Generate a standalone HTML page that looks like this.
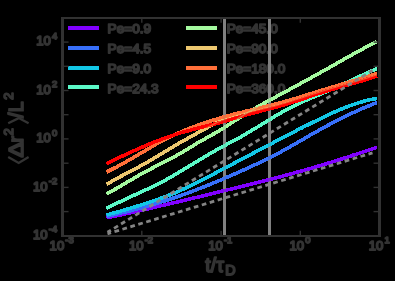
<!DOCTYPE html>
<html><head><meta charset="utf-8"><title>MSD</title>
<style>
html,body{margin:0;padding:0;background:#000;}
body{width:395px;height:281px;overflow:hidden;position:relative;font-family:"Liberation Sans",sans-serif;}
svg text{font-family:"Liberation Sans",sans-serif;stroke:#333333;stroke-width:1.75px;stroke-linejoin:round;}
svg .tx{filter:grayscale(1);}
</style></head><body>
<svg width="395" height="281" viewBox="0 0 395 281" style="position:absolute;left:0;top:0">
<rect width="395" height="281" fill="#000"/>
<rect x="68" y="26" width="31" height="4" fill="#8000ff" shape-rendering="crispEdges"/>
<rect x="68" y="46" width="31" height="4" fill="#376ff9" shape-rendering="crispEdges"/>
<rect x="68" y="66" width="31" height="4" fill="#12c7e6" shape-rendering="crispEdges"/>
<rect x="68" y="85" width="31" height="4" fill="#5bf9c7" shape-rendering="crispEdges"/>
<rect x="186" y="26" width="31" height="4" fill="#a4f99f" shape-rendering="crispEdges"/>
<rect x="186" y="46" width="31" height="4" fill="#edc76f" shape-rendering="crispEdges"/>
<rect x="186" y="66" width="31" height="4" fill="#ff6f39" shape-rendering="crispEdges"/>
<rect x="186" y="85" width="31" height="4" fill="#ff0000" shape-rendering="crispEdges"/>
<g class="tx">
<text x="107.6" y="33.2" font-size="13.6" fill="#333333">Pe=0.9</text>
<text x="107.6" y="53.0" font-size="13.6" fill="#333333">Pe=4.5</text>
<text x="107.6" y="72.9" font-size="13.6" fill="#333333">Pe=9.0</text>
<text x="107.6" y="92.6" font-size="13.6" fill="#333333">Pe=24.3</text>
<text x="226.7" y="33.2" font-size="13.6" fill="#333333">Pe=45.0</text>
<text x="226.7" y="53.0" font-size="13.6" fill="#333333">Pe=90.0</text>
<text x="226.7" y="72.9" font-size="13.6" fill="#333333">Pe=180.0</text>
<text x="226.7" y="92.6" font-size="13.6" fill="#333333">Pe=360.0</text>
</g>
<rect x="223" y="18" width="3" height="218" fill="#808080" shape-rendering="crispEdges"/>
<rect x="268" y="18" width="3" height="218" fill="#808080" shape-rendering="crispEdges"/>
<path d="M106.5,217.7 L109.9,217.0 L113.3,216.4 L116.8,215.7 L120.2,215.0 L123.6,214.2 L127.0,213.5 L130.5,212.8 L133.9,212.0 L137.3,211.2 L140.7,210.5 L144.2,209.7 L147.6,208.9 L151.0,208.1 L154.4,207.3 L157.9,206.5 L161.3,205.7 L164.7,204.9 L168.1,204.1 L171.6,203.3 L175.0,202.5 L178.4,201.7 L181.8,200.9 L185.3,200.0 L188.7,199.2 L192.1,198.4 L195.5,197.6 L198.9,196.8 L202.4,196.0 L205.8,195.1 L209.2,194.3 L212.6,193.5 L216.1,192.7 L219.5,191.8 L222.9,191.0 L226.3,190.2 L229.8,189.3 L233.2,188.5 L236.6,187.7 L240.0,186.8 L243.5,186.0 L246.9,185.2 L250.3,184.3 L253.7,183.5 L257.2,182.6 L260.6,181.8 L264.0,180.9 L267.4,180.0 L270.9,179.1 L274.3,178.3 L277.7,177.4 L281.1,176.5 L284.6,175.6 L288.0,174.7 L291.4,173.7 L294.8,172.8 L298.2,171.9 L301.7,170.9 L305.1,170.0 L308.5,169.0 L311.9,168.0 L315.4,167.0 L318.8,166.0 L322.2,165.0 L325.6,163.9 L329.1,162.9 L332.5,161.8 L335.9,160.7 L339.3,159.7 L342.8,158.6 L346.2,157.5 L349.6,156.4 L353.0,155.2 L356.5,154.1 L359.9,153.0 L363.3,151.9 L366.7,150.8 L370.2,149.6 L373.6,148.5 L377.0,147.4" fill="none" stroke="#8000ff" stroke-width="3.6" stroke-linejoin="round" shape-rendering="crispEdges"/>
<path d="M106.5,216.4 L109.9,215.6 L113.3,214.8 L116.8,214.0 L120.2,213.2 L123.6,212.4 L127.0,211.6 L130.5,210.7 L133.9,209.8 L137.3,208.9 L140.7,208.0 L144.2,207.0 L147.6,206.1 L151.0,205.1 L154.4,204.1 L157.9,203.0 L161.3,202.0 L164.7,200.9 L168.1,199.8 L171.6,198.7 L175.0,197.5 L178.4,196.4 L181.8,195.2 L185.3,193.9 L188.7,192.7 L192.1,191.4 L195.5,190.1 L198.9,188.8 L202.4,187.4 L205.8,186.1 L209.2,184.7 L212.6,183.3 L216.1,181.9 L219.5,180.5 L222.9,179.0 L226.3,177.5 L229.8,176.1 L233.2,174.6 L236.6,173.1 L240.0,171.5 L243.5,170.0 L246.9,168.5 L250.3,166.9 L253.7,165.3 L257.2,163.8 L260.6,162.1 L264.0,160.5 L267.4,158.8 L270.9,157.1 L274.3,155.3 L277.7,153.6 L281.1,151.7 L284.6,149.9 L288.0,148.0 L291.4,146.0 L294.8,144.1 L298.2,142.1 L301.7,140.1 L305.1,138.1 L308.5,136.1 L311.9,134.2 L315.4,132.2 L318.8,130.3 L322.2,128.4 L325.6,126.5 L329.1,124.7 L332.5,122.8 L335.9,121.1 L339.3,119.3 L342.8,117.6 L346.2,116.0 L349.6,114.3 L353.0,112.7 L356.5,111.2 L359.9,109.6 L363.3,108.1 L366.7,106.7 L370.2,105.3 L373.6,103.9 L377.0,102.6" fill="none" stroke="#376ff9" stroke-width="3.6" stroke-linejoin="round" shape-rendering="crispEdges"/>
<path d="M106.5,215.1 L109.9,214.1 L113.3,213.1 L116.8,212.2 L120.2,211.2 L123.6,210.2 L127.0,209.2 L130.5,208.2 L133.9,207.2 L137.3,206.1 L140.7,205.1 L144.2,204.0 L147.6,202.9 L151.0,201.7 L154.4,200.6 L157.9,199.4 L161.3,198.1 L164.7,196.9 L168.1,195.5 L171.6,194.2 L175.0,192.8 L178.4,191.3 L181.8,189.8 L185.3,188.2 L188.7,186.6 L192.1,185.0 L195.5,183.3 L198.9,181.6 L202.4,179.8 L205.8,178.0 L209.2,176.3 L212.6,174.5 L216.1,172.7 L219.5,170.9 L222.9,169.1 L226.3,167.3 L229.8,165.5 L233.2,163.7 L236.6,161.9 L240.0,160.1 L243.5,158.3 L246.9,156.5 L250.3,154.7 L253.7,152.9 L257.2,151.1 L260.6,149.3 L264.0,147.5 L267.4,145.7 L270.9,143.9 L274.3,142.1 L277.7,140.3 L281.1,138.5 L284.6,136.7 L288.0,134.9 L291.4,133.1 L294.8,131.4 L298.2,129.6 L301.7,127.9 L305.1,126.2 L308.5,124.5 L311.9,122.8 L315.4,121.1 L318.8,119.4 L322.2,117.8 L325.6,116.1 L329.1,114.5 L332.5,112.9 L335.9,111.4 L339.3,109.9 L342.8,108.5 L346.2,107.1 L349.6,105.8 L353.0,104.6 L356.5,103.4 L359.9,102.4 L363.3,101.4 L366.7,100.5 L370.2,99.7 L373.6,99.1 L377.0,98.5" fill="none" stroke="#12c7e6" stroke-width="3.6" stroke-linejoin="round" shape-rendering="crispEdges"/>
<path d="M106.5,208.5 L109.9,206.7 L113.3,205.0 L116.8,203.3 L120.2,201.7 L123.6,200.0 L127.0,198.4 L130.5,196.8 L133.9,195.3 L137.3,193.7 L140.7,192.1 L144.2,190.6 L147.6,189.0 L151.0,187.4 L154.4,185.7 L157.9,184.1 L161.3,182.3 L164.7,180.5 L168.1,178.6 L171.6,176.6 L175.0,174.7 L178.4,172.6 L181.8,170.6 L185.3,168.5 L188.7,166.5 L192.1,164.4 L195.5,162.3 L198.9,160.2 L202.4,158.2 L205.8,156.1 L209.2,154.1 L212.6,152.1 L216.1,150.2 L219.5,148.3 L222.9,146.4 L226.3,144.6 L229.8,142.8 L233.2,141.0 L236.6,139.1 L240.0,137.3 L243.5,135.3 L246.9,133.3 L250.3,131.3 L253.7,129.3 L257.2,127.2 L260.6,125.1 L264.0,123.0 L267.4,120.9 L270.9,118.8 L274.3,116.7 L277.7,114.7 L281.1,112.7 L284.6,110.8 L288.0,108.9 L291.4,107.1 L294.8,105.4 L298.2,103.7 L301.7,102.2 L305.1,100.6 L308.5,99.2 L311.9,97.8 L315.4,96.3 L318.8,94.9 L322.2,93.5 L325.6,92.0 L329.1,90.5 L332.5,89.0 L335.9,87.5 L339.3,85.9 L342.8,84.3 L346.2,82.7 L349.6,81.1 L353.0,79.5 L356.5,77.9 L359.9,76.3 L363.3,74.7 L366.7,73.1 L370.2,71.5 L373.6,70.0 L377.0,68.5" fill="none" stroke="#5bf9c7" stroke-width="3.6" stroke-linejoin="round" shape-rendering="crispEdges"/>
<path d="M106.5,193.7 L109.9,192.0 L113.3,190.2 L116.8,188.3 L120.2,186.3 L123.6,184.3 L127.0,182.3 L130.5,180.2 L133.9,178.2 L137.3,176.2 L140.7,174.3 L144.2,172.4 L147.6,170.6 L151.0,168.8 L154.4,167.0 L157.9,165.3 L161.3,163.6 L164.7,161.8 L168.1,160.1 L171.6,158.3 L175.0,156.4 L178.4,154.5 L181.8,152.5 L185.3,150.5 L188.7,148.4 L192.1,146.3 L195.5,144.2 L198.9,142.1 L202.4,140.2 L205.8,138.3 L209.2,136.4 L212.6,134.5 L216.1,132.6 L219.5,130.6 L222.9,128.5 L226.3,126.3 L229.8,124.1 L233.2,121.8 L236.6,119.6 L240.0,117.4 L243.5,115.2 L246.9,113.1 L250.3,111.1 L253.7,109.1 L257.2,107.1 L260.6,105.2 L264.0,103.3 L267.4,101.4 L270.9,99.5 L274.3,97.7 L277.7,95.8 L281.1,94.0 L284.6,92.2 L288.0,90.3 L291.4,88.5 L294.8,86.6 L298.2,84.8 L301.7,82.9 L305.1,81.0 L308.5,79.2 L311.9,77.3 L315.4,75.4 L318.8,73.5 L322.2,71.5 L325.6,69.6 L329.1,67.7 L332.5,65.7 L335.9,63.8 L339.3,61.9 L342.8,59.9 L346.2,58.0 L349.6,56.1 L353.0,54.2 L356.5,52.3 L359.9,50.5 L363.3,48.6 L366.7,46.8 L370.2,45.0 L373.6,43.3 L377.0,41.6" fill="none" stroke="#a4f99f" stroke-width="3.6" stroke-linejoin="round" shape-rendering="crispEdges"/>
<path d="M106.5,184.4 L109.9,182.4 L113.3,180.4 L116.8,178.6 L120.2,176.7 L123.6,174.9 L127.0,173.1 L130.5,171.3 L133.9,169.5 L137.3,167.7 L140.7,165.8 L144.2,163.9 L147.6,162.0 L151.0,160.0 L154.4,157.9 L157.9,155.9 L161.3,153.8 L164.7,151.8 L168.1,149.7 L171.6,147.7 L175.0,145.6 L178.4,143.6 L181.8,141.7 L185.3,139.7 L188.7,137.8 L192.1,135.9 L195.5,134.1 L198.9,132.2 L202.4,130.3 L205.8,128.4 L209.2,126.5 L212.6,124.8 L216.1,123.0 L219.5,121.5 L222.9,120.0 L226.3,118.7 L229.8,117.5 L233.2,116.4 L236.6,115.4 L240.0,114.5 L243.5,113.5 L246.9,112.7 L250.3,111.8 L253.7,111.0 L257.2,110.2 L260.6,109.3 L264.0,108.5 L267.4,107.7 L270.9,106.9 L274.3,106.0 L277.7,105.1 L281.1,104.1 L284.6,103.2 L288.0,102.1 L291.4,101.1 L294.8,100.0 L298.2,98.9 L301.7,97.8 L305.1,96.7 L308.5,95.6 L311.9,94.5 L315.4,93.4 L318.8,92.3 L322.2,91.2 L325.6,90.2 L329.1,89.2 L332.5,88.2 L335.9,87.2 L339.3,86.2 L342.8,85.2 L346.2,84.2 L349.6,83.2 L353.0,82.2 L356.5,81.2 L359.9,80.2 L363.3,79.1 L366.7,78.1 L370.2,77.0 L373.6,75.8 L377.0,74.7" fill="none" stroke="#edc76f" stroke-width="3.6" stroke-linejoin="round" shape-rendering="crispEdges"/>
<path d="M106.5,172.0 L109.9,170.3 L113.3,168.6 L116.8,166.9 L120.2,165.1 L123.6,163.2 L127.0,161.3 L130.5,159.3 L133.9,157.3 L137.3,155.3 L140.7,153.3 L144.2,151.2 L147.6,149.2 L151.0,147.1 L154.4,145.1 L157.9,143.2 L161.3,141.3 L164.7,139.5 L168.1,137.8 L171.6,136.2 L175.0,134.6 L178.4,133.0 L181.8,131.6 L185.3,130.1 L188.7,128.7 L192.1,127.4 L195.5,126.1 L198.9,124.9 L202.4,123.7 L205.8,122.5 L209.2,121.4 L212.6,120.3 L216.1,119.3 L219.5,118.2 L222.9,117.2 L226.3,116.3 L229.8,115.3 L233.2,114.4 L236.6,113.6 L240.0,112.7 L243.5,111.9 L246.9,111.0 L250.3,110.2 L253.7,109.4 L257.2,108.6 L260.6,107.8 L264.0,107.0 L267.4,106.1 L270.9,105.3 L274.3,104.4 L277.7,103.5 L281.1,102.6 L284.6,101.6 L288.0,100.7 L291.4,99.6 L294.8,98.6 L298.2,97.6 L301.7,96.5 L305.1,95.4 L308.5,94.3 L311.9,93.3 L315.4,92.2 L318.8,91.1 L322.2,90.1 L325.6,89.1 L329.1,88.0 L332.5,87.0 L335.9,86.0 L339.3,85.0 L342.8,84.0 L346.2,83.0 L349.6,82.0 L353.0,80.9 L356.5,79.9 L359.9,78.9 L363.3,77.8 L366.7,76.7 L370.2,75.6 L373.6,74.5 L377.0,73.4" fill="none" stroke="#ff6f39" stroke-width="3.6" stroke-linejoin="round" shape-rendering="crispEdges"/>
<path d="M106.5,163.7 L109.9,162.0 L113.3,160.4 L116.8,158.7 L120.2,157.1 L123.6,155.5 L127.0,153.9 L130.5,152.3 L133.9,150.8 L137.3,149.2 L140.7,147.7 L144.2,146.3 L147.6,144.8 L151.0,143.4 L154.4,142.0 L157.9,140.7 L161.3,139.4 L164.7,138.1 L168.1,136.9 L171.6,135.7 L175.0,134.6 L178.4,133.5 L181.8,132.5 L185.3,131.5 L188.7,130.6 L192.1,129.7 L195.5,128.8 L198.9,127.9 L202.4,127.1 L205.8,126.2 L209.2,125.4 L212.6,124.5 L216.1,123.6 L219.5,122.7 L222.9,121.7 L226.3,120.7 L229.8,119.7 L233.2,118.7 L236.6,117.7 L240.0,116.7 L243.5,115.7 L246.9,114.8 L250.3,113.8 L253.7,112.9 L257.2,112.0 L260.6,111.1 L264.0,110.2 L267.4,109.4 L270.9,108.5 L274.3,107.6 L277.7,106.7 L281.1,105.7 L284.6,104.7 L288.0,103.7 L291.4,102.6 L294.8,101.5 L298.2,100.4 L301.7,99.3 L305.1,98.1 L308.5,96.9 L311.9,95.8 L315.4,94.6 L318.8,93.5 L322.2,92.4 L325.6,91.3 L329.1,90.3 L332.5,89.3 L335.9,88.3 L339.3,87.3 L342.8,86.4 L346.2,85.4 L349.6,84.4 L353.0,83.5 L356.5,82.5 L359.9,81.5 L363.3,80.4 L366.7,79.3 L370.2,78.2 L373.6,77.1 L377.0,75.9" fill="none" stroke="#ff0000" stroke-width="3.6" stroke-linejoin="round" shape-rendering="crispEdges"/>
<path d="M106.5,193.7 L109.9,192.0 L113.3,190.2 L116.8,188.3 L120.2,186.3 L123.6,184.3 L127.0,182.3 L130.5,180.2 L133.9,178.2 L137.3,176.2 L140.7,174.3 L144.2,172.4 L147.6,170.6 L151.0,168.8 L154.4,167.0 L157.9,165.3 L161.3,163.6 L164.7,161.8 L168.1,160.1 L171.6,158.3 L175.0,156.4 L178.4,154.5 L181.8,152.5 L185.3,150.5 L188.7,148.4 L192.1,146.3 L195.5,144.2 L198.9,142.1 L202.4,140.2 L205.8,138.3 L209.2,136.4 L212.6,134.5 L216.1,132.6 L219.5,130.6 L222.9,128.5 L226.3,126.3 L229.8,124.1 L233.2,121.8 L236.6,119.6 L240.0,117.4 L243.5,115.2 L246.9,113.1 L250.3,111.1 L253.7,109.1 L257.2,107.1 L260.6,105.2 L264.0,103.3 L267.4,101.4 L270.9,99.5 L274.3,97.7 L277.7,95.8 L281.1,94.0 L284.6,92.2 L288.0,90.3 L291.4,88.5 L294.8,86.6 L298.2,84.8 L301.7,82.9 L305.1,81.0 L308.5,79.2 L311.9,77.3 L315.4,75.4 L318.8,73.5 L322.2,71.5 L325.6,69.6 L329.1,67.7 L332.5,65.7 L335.9,63.8 L339.3,61.9 L342.8,59.9 L346.2,58.0 L349.6,56.1 L353.0,54.2 L356.5,52.3 L359.9,50.5 L363.3,48.6 L366.7,46.8 L370.2,45.0 L373.6,43.3 L377.0,41.6" fill="none" stroke="#a4f99f" stroke-width="1.3" opacity="0.45"/>
<path d="M106.5,184.4 L109.9,182.4 L113.3,180.4 L116.8,178.6 L120.2,176.7 L123.6,174.9 L127.0,173.1 L130.5,171.3 L133.9,169.5 L137.3,167.7 L140.7,165.8 L144.2,163.9 L147.6,162.0 L151.0,160.0 L154.4,157.9 L157.9,155.9 L161.3,153.8 L164.7,151.8 L168.1,149.7 L171.6,147.7 L175.0,145.6 L178.4,143.6 L181.8,141.7 L185.3,139.7 L188.7,137.8 L192.1,135.9 L195.5,134.1 L198.9,132.2 L202.4,130.3 L205.8,128.4 L209.2,126.5 L212.6,124.8 L216.1,123.0 L219.5,121.5 L222.9,120.0 L226.3,118.7 L229.8,117.5 L233.2,116.4 L236.6,115.4 L240.0,114.5 L243.5,113.5 L246.9,112.7 L250.3,111.8 L253.7,111.0 L257.2,110.2 L260.6,109.3 L264.0,108.5 L267.4,107.7 L270.9,106.9 L274.3,106.0 L277.7,105.1 L281.1,104.1 L284.6,103.2 L288.0,102.1 L291.4,101.1 L294.8,100.0 L298.2,98.9 L301.7,97.8 L305.1,96.7 L308.5,95.6 L311.9,94.5 L315.4,93.4 L318.8,92.3 L322.2,91.2 L325.6,90.2 L329.1,89.2 L332.5,88.2 L335.9,87.2 L339.3,86.2 L342.8,85.2 L346.2,84.2 L349.6,83.2 L353.0,82.2 L356.5,81.2 L359.9,80.2 L363.3,79.1 L366.7,78.1 L370.2,77.0 L373.6,75.8 L377.0,74.7" fill="none" stroke="#edc76f" stroke-width="1.3" opacity="0.45"/>
<line x1="107.5" y1="233.8" x2="372.5" y2="152.82313354363828" stroke="#848484" stroke-width="2.8" stroke-dashoffset="1.0" stroke-dasharray="4.7 3.6"/>
<line x1="107.5" y1="232.3" x2="372.5" y2="70.34626708727654" stroke="#848484" stroke-width="2.8" stroke-dashoffset="0.7" stroke-dasharray="4.7 3.6"/>
<rect x="223" y="18" width="3" height="218" fill="#808080" opacity="0.18" shape-rendering="crispEdges"/>
<rect x="268" y="18" width="3" height="218" fill="#808080" opacity="0.18" shape-rendering="crispEdges"/>
<line x1="62.5" y1="235.8" x2="62.5" y2="230.8" stroke="#313131" stroke-width="1.4"/>
<line x1="62.5" y1="17.85" x2="62.5" y2="22.85" stroke="#313131" stroke-width="1.4"/>
<line x1="141.8" y1="235.8" x2="141.8" y2="230.8" stroke="#313131" stroke-width="1.4"/>
<line x1="141.8" y1="17.85" x2="141.8" y2="22.85" stroke="#313131" stroke-width="1.4"/>
<line x1="221.1" y1="235.8" x2="221.1" y2="230.8" stroke="#313131" stroke-width="1.4"/>
<line x1="221.1" y1="17.85" x2="221.1" y2="22.85" stroke="#313131" stroke-width="1.4"/>
<line x1="300.3" y1="235.8" x2="300.3" y2="230.8" stroke="#313131" stroke-width="1.4"/>
<line x1="300.3" y1="17.85" x2="300.3" y2="22.85" stroke="#313131" stroke-width="1.4"/>
<line x1="379.6" y1="235.8" x2="379.6" y2="230.8" stroke="#313131" stroke-width="1.4"/>
<line x1="379.6" y1="17.85" x2="379.6" y2="22.85" stroke="#313131" stroke-width="1.4"/>
<line x1="62.55" y1="235.8" x2="68.55" y2="235.8" stroke="#313131" stroke-width="1.4"/>
<line x1="379.55" y1="235.8" x2="373.55" y2="235.8" stroke="#313131" stroke-width="1.4"/>
<line x1="62.55" y1="211.6" x2="68.55" y2="211.6" stroke="#313131" stroke-width="1.4"/>
<line x1="379.55" y1="211.6" x2="373.55" y2="211.6" stroke="#313131" stroke-width="1.4"/>
<line x1="62.55" y1="187.4" x2="68.55" y2="187.4" stroke="#313131" stroke-width="1.4"/>
<line x1="379.55" y1="187.4" x2="373.55" y2="187.4" stroke="#313131" stroke-width="1.4"/>
<line x1="62.55" y1="163.2" x2="68.55" y2="163.2" stroke="#313131" stroke-width="1.4"/>
<line x1="379.55" y1="163.2" x2="373.55" y2="163.2" stroke="#313131" stroke-width="1.4"/>
<line x1="62.55" y1="138.9" x2="68.55" y2="138.9" stroke="#313131" stroke-width="1.4"/>
<line x1="379.55" y1="138.9" x2="373.55" y2="138.9" stroke="#313131" stroke-width="1.4"/>
<line x1="62.55" y1="114.7" x2="68.55" y2="114.7" stroke="#313131" stroke-width="1.4"/>
<line x1="379.55" y1="114.7" x2="373.55" y2="114.7" stroke="#313131" stroke-width="1.4"/>
<line x1="62.55" y1="90.5" x2="68.55" y2="90.5" stroke="#313131" stroke-width="1.4"/>
<line x1="379.55" y1="90.5" x2="373.55" y2="90.5" stroke="#313131" stroke-width="1.4"/>
<line x1="62.55" y1="66.3" x2="68.55" y2="66.3" stroke="#313131" stroke-width="1.4"/>
<line x1="379.55" y1="66.3" x2="373.55" y2="66.3" stroke="#313131" stroke-width="1.4"/>
<line x1="62.55" y1="42.1" x2="68.55" y2="42.1" stroke="#313131" stroke-width="1.4"/>
<line x1="379.55" y1="42.1" x2="373.55" y2="42.1" stroke="#313131" stroke-width="1.4"/>
<line x1="62.55" y1="17.8" x2="68.55" y2="17.8" stroke="#313131" stroke-width="1.4"/>
<line x1="379.55" y1="17.8" x2="373.55" y2="17.8" stroke="#313131" stroke-width="1.4"/>
<g fill="#313131" shape-rendering="crispEdges"><rect x="61" y="17" width="3" height="220"/><rect x="378" y="17" width="3" height="220"/><rect x="61" y="17" width="320" height="2"/><rect x="61" y="235" width="320" height="2"/></g>
<g class="tx">
<text transform="translate(49.6,249.9) scale(1,1.0)" font-size="13.1" fill="#333333">10<tspan dx="1.2" dy="-6.6" font-size="9.4">-3</tspan></text>
<text transform="translate(128.9,249.9) scale(1,1.0)" font-size="13.1" fill="#333333">10<tspan dx="1.2" dy="-6.6" font-size="9.4">-2</tspan></text>
<text transform="translate(208.2,249.9) scale(1,1.0)" font-size="13.1" fill="#333333">10<tspan dx="1.2" dy="-6.6" font-size="9.4">-1</tspan></text>
<text transform="translate(289.5,249.9) scale(1,1.0)" font-size="13.1" fill="#333333">10<tspan dx="1.2" dy="-6.6" font-size="9.4">0</tspan></text>
<text transform="translate(368.8,249.9) scale(1,1.0)" font-size="13.1" fill="#333333">10<tspan dx="1.2" dy="-6.6" font-size="9.4">1</tspan></text>
<text transform="translate(57.2,239.0) scale(1,1.0)" font-size="13.1" fill="#333333" text-anchor="end">10<tspan dx="1.2" dy="-6.6" font-size="9.4">-4</tspan></text>
<text transform="translate(57.2,190.6) scale(1,1.0)" font-size="13.1" fill="#333333" text-anchor="end">10<tspan dx="1.2" dy="-6.6" font-size="9.4">-2</tspan></text>
<text transform="translate(57.2,142.1) scale(1,1.0)" font-size="13.1" fill="#333333" text-anchor="end">10<tspan dx="1.2" dy="-6.6" font-size="9.4">0</tspan></text>
<text transform="translate(57.2,93.7) scale(1,1.0)" font-size="13.1" fill="#333333" text-anchor="end">10<tspan dx="1.2" dy="-6.6" font-size="9.4">2</tspan></text>
<text transform="translate(57.2,45.3) scale(1,1.0)" font-size="13.1" fill="#333333" text-anchor="end">10<tspan dx="1.2" dy="-6.6" font-size="9.4">4</tspan></text>
<text transform="translate(205.3,272.0) scale(1,1)" font-size="19.5" fill="#333333">t/τ<tspan dx="1.3" dy="3.1" font-size="14.3">D</tspan></text>
<text transform="translate(23.1,157.6) rotate(-90) scale(1.2,1)" font-size="19.5" fill="#333333">Δ</text>
<text transform="translate(23.1,142.5) rotate(-90) scale(1,1)" font-size="19.5" fill="#333333">r</text>
<text transform="translate(12.700000000000001,135.4) rotate(-90) scale(1,1)" font-size="13.0" fill="#333333">2</text>
<text transform="translate(23.1,118.0) rotate(-90) scale(1,1)" font-size="19.5" fill="#333333">/</text>
<text transform="translate(23.1,112.2) rotate(-90) scale(1,1)" font-size="19.5" fill="#333333">L</text>
<text transform="translate(12.700000000000001,99.8) rotate(-90) scale(1,1)" font-size="13.0" fill="#333333">2</text>
<path d="M8.2,157.0 L18.7,162.9 L28.6,157.0 M8.2,123.3 L18.7,118.1 L28.6,123.3" fill="none" stroke="#333333" stroke-width="2.3"/>
</g>
</svg>
</body></html>
